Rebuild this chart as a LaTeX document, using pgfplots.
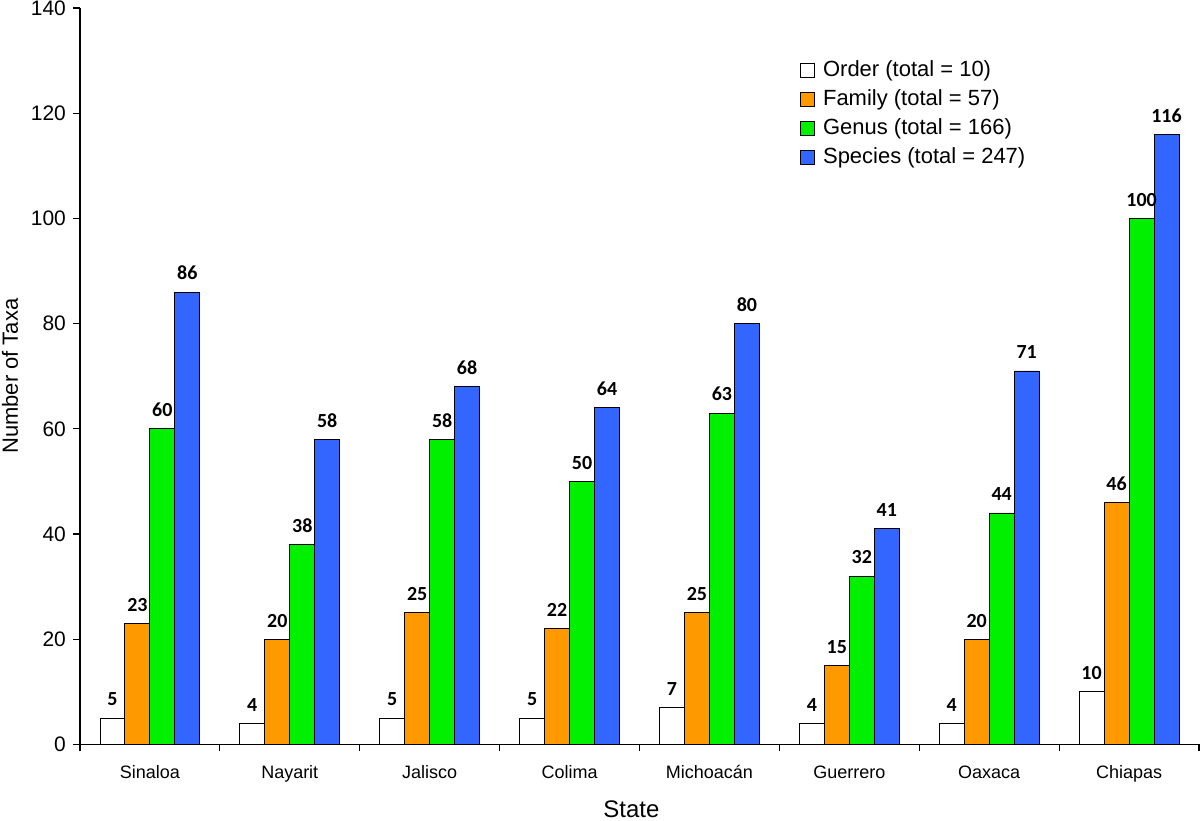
\documentclass[border=0pt]{standalone}
\usepackage{fontspec}
\setmainfont{Liberation Sans}
\newfontfamily\carlito{Carlito}
\usepackage{pgfplots}
\pgfplotsset{compat=1.18}
\definecolor{cfam}{RGB}{255,153,0}
\definecolor{cgen}{RGB}{0,240,0}
\definecolor{cspe}{RGB}{51,102,255}
\pgfplotsset{
  sqleg/.style={legend image code/.code={\draw[##1,draw=black,line width=0.4pt] (0pt,-3.5pt) rectangle (7pt,3.5pt);}}
}
\begin{document}
\begin{tikzpicture}
\begin{axis}[
  scale only axis, width=560pt, height=368.5pt,
  xmin=-0.5, xmax=7.5, ymin=0, ymax=140,
  axis lines=left, axis line style={-, line width=0.6pt},
  ybar=0pt, bar width=12.5pt,
  xtick={-0.5,0.5,...,7.5},
  xticklabels={Sinaloa,Nayarit,Jalisco,Colima,Michoac\'an,Guerrero,Oaxaca,Chiapas},
  x tick label as interval,
  ytick={0,20,...,140},
  tick align=outside, major tick length=3.5pt,
  tick style={black, line width=0.6pt},
  /pgf/number format/assume math mode=true,
  yticklabel style={font=\fontsize{10.5}{12}\selectfont},
  xticklabel style={font=\fontsize{9}{10}\selectfont, yshift=-3.5pt},
  ylabel={Number of Taxa},
  ylabel style={font=\fontsize{11}{12}\selectfont, at={(axis description cs:0,0.5)}, anchor=center, inner sep=0pt, yshift=35pt},
  xlabel={State},
  xlabel style={font=\fontsize{12}{13}\selectfont, at={(axis description cs:0.5,0)}, anchor=base, inner sep=0pt, yshift=-36.5pt, xshift=-4pt},
  nodes near coords,
  nodes near coords style={font=\carlito\bfseries\fontsize{10}{11}\selectfont, anchor=south, yshift=2.5pt, black},
  legend style={draw=none, fill=none, at={(0.638,0.937)}, anchor=north west,
    font=\fontsize{11}{13}\selectfont, row sep=3pt, column sep=3pt, nodes={inner sep=1pt}},
  legend cell align=left,
]
\addplot[fill=white, draw=black, line width=0.4pt, sqleg] coordinates {(0,5) (1,4) (2,5) (3,5) (4,7) (5,4) (6,4) (7,10)};
\addplot[fill=cfam, draw=black, line width=0.4pt, sqleg] coordinates {(0,23) (1,20) (2,25) (3,22) (4,25) (5,15) (6,20) (7,46)};
\addplot[fill=cgen, draw=black, line width=0.4pt, sqleg] coordinates {(0,60) (1,38) (2,58) (3,50) (4,63) (5,32) (6,44) (7,100)};
\addplot[fill=cspe, draw=black, line width=0.4pt, sqleg] coordinates {(0,86) (1,58) (2,68) (3,64) (4,80) (5,41) (6,71) (7,116)};
\legend{Order (total = 10), Family (total = 57), Genus (total = 166), Species (total = 247)}
\end{axis}
\pgfresetboundingbox
\path[use as bounding box] ([shift={(-40pt,-38pt)}]current axis.south west) rectangle ([shift={(0.5pt,4pt)}]current axis.north east);
\end{tikzpicture}
\end{document}
